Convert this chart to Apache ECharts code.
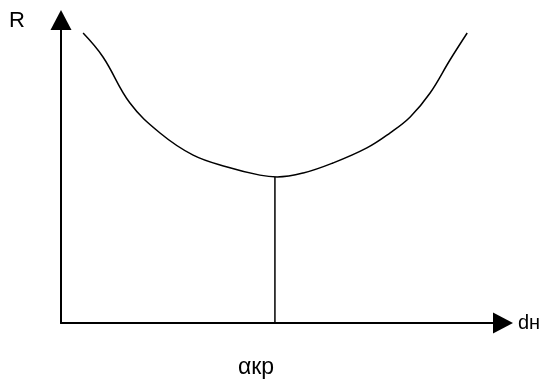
<!DOCTYPE html>
<html>
<head>
<meta charset="utf-8">
<script src="https://cdn.jsdelivr.net/npm/echarts@6/dist/echarts.min.js"></script>
<style>
  html, body { margin: 0; padding: 0; background: #fff; }
  #chart { width: 550px; height: 386px; }
</style>
</head>
<body>
<div id="chart"></div>
<script>
// curve R(dн) (axis units 0..100)
const curveX = [5, 9.5, 15.6, 22.4, 29.9, 37.6, 45, 48.9, 54.8, 61.5, 69.2, 74.4, 79, 83.5, 88, 91.9]
const curveY = [95.7, 87.8, 72.6, 62.7, 55.4, 51.5, 48.8, 48.2, 49.5, 52.8, 57.8, 62.7, 68, 75.9, 86.8, 95.7]
// position of the minimum (αкр)
const critX = 48.4
const critY = 48.2

const chart = echarts.init(document.getElementById('chart'))

const axisLine = {
  show: true,
  symbol: ['none', 'triangle'],
  symbolSize: [21, 20],
  lineStyle: { color: '#000', width: 2 }
}

const option = {
  animation: false,
  grid: { left: 61, right: 47, top: 20, bottom: 63 },
  xAxis: {
    type: 'value',
    min: 0,
    max: 100,
    name: 'dн',
    nameGap: 15,
    nameTextStyle: { color: '#000', fontSize: 20, fontFamily: 'Liberation Sans' },
    axisLine: axisLine,
    axisTick: { show: false },
    axisLabel: { show: false },
    splitLine: { show: false }
  },
  yAxis: {
    type: 'value',
    min: 0,
    max: 100,
    axisLine: axisLine,
    axisTick: { show: false },
    axisLabel: { show: false },
    splitLine: { show: false }
  },
  graphic: [
    {
      type: 'text',
      left: 9,
      top: 10,
      style: { text: 'R', fill: '#000', font: '22px "Liberation Sans"' }
    },
    {
      type: 'text',
      left: 238,
      top: 356,
      style: { text: 'αкр', fill: '#000', font: '23px "Liberation Sans"' }
    }
  ],
  series: [
    {
      type: 'line',
      smooth: 0.4,
      showSymbol: false,
      lineStyle: { color: '#000', width: 1.5 },
      data: curveX.map((x, i) => [x, curveY[i]])
    },
    {
      type: 'line',
      showSymbol: false,
      lineStyle: { color: '#000', width: 1.5 },
      data: [[critX, 0], [critX, critY]]
    }
  ]
}

chart.setOption(option)
</script>
</body>
</html>
